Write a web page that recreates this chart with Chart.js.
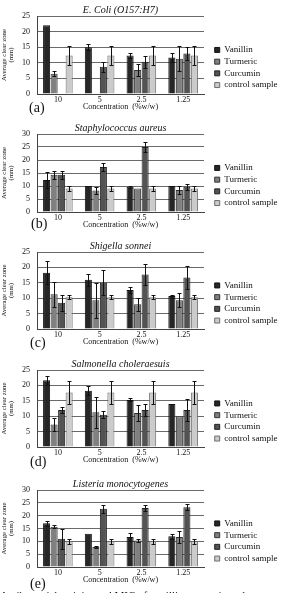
<!DOCTYPE html>
<html><head><meta charset="utf-8">
<script src="https://cdn.jsdelivr.net/npm/chart.js@4.4.1/dist/chart.umd.min.js"></script>
<style>
html,body{margin:0;padding:0;background:#fff}
body{width:281px;height:593px;overflow:hidden;position:relative;font-family:"Liberation Serif","Times New Roman",serif}
canvas{position:absolute;left:0}
.lbl{position:absolute;font-size:14px;color:#111;line-height:1}
.cap{position:absolute;left:0;top:590px;font-size:11px;white-space:nowrap;color:#111;line-height:1}
</style></head><body>
<canvas id="c0" width="281" height="113" style="top:-2px"></canvas>
<canvas id="c1" width="281" height="113" style="top:116px"></canvas>
<canvas id="c2" width="281" height="112" style="top:234px"></canvas>
<canvas id="c3" width="281" height="112" style="top:352px"></canvas>
<canvas id="c4" width="281" height="112" style="top:472px"></canvas>
<div class="lbl" style="left:29px;top:101px">(a)</div>
<div class="lbl" style="left:31px;top:217px">(b)</div>
<div class="lbl" style="left:30px;top:336px">(c)</div>
<div class="lbl" style="left:30px;top:455px">(d)</div>
<div class="lbl" style="left:30px;top:577px">(e)</div>
<div class="cap">Antibacterial activity and MIC of vanillin, turmeric and curcumin against</div>
<script>
const categories = ['10', '5', '2.5', '1.25'];
const seriesNames = ['Vanillin', 'Turmeric', 'Curcumin', 'control sample'];
const panelTitles = ['E. Coli (O157:H7)', 'Staphylococcus aureus', 'Shigella sonnei', 'Salmonella choleraesuis', 'Listeria monocytogenes'];
const panelMax = [25, 30, 25, 25, 30];
const xTitle = 'Concentration  (%w/w)';
const yTitle = ['Average clear zone', '(mm)'];

// (a) E. Coli
const ecoliVanillin = [22, 15, 12.3, 11.7];
const ecoliVanillinErr = [0, 1, 0.7, 1.5];
const ecoliTurmeric = [6.5, 0, 7.7, 11.3];
const ecoliTurmericErr = [0.8, 0, 2, 4];
const ecoliCurcumin = [0, 8.7, 10.3, 13];
const ecoliCurcuminErr = [0, 1.5, 2, 2];
const ecoliControl = [12.3, 12.3, 12.3, 12.3];
const ecoliControlErr = [3, 3, 3, 3];
// (b) Staphylococcus aureus
const staphVanillin = [12.3, 10, 9.7, 10];
const staphVanillinErr = [3, 0, 0.4, 0];
const staphTurmeric = [14.3, 8.3, 9, 8.5];
const staphTurmericErr = [1.5, 1.3, 0, 1.5];
const staphCurcumin = [14.3, 17.3, 25, 9.7];
const staphCurcuminErr = [1.5, 1.5, 2, 1.2];
const staphControl = [9, 9, 9, 9];
const staphControlErr = [1, 1, 1, 1];
// (c) Shigella sonnei
const shigVanillin = [18.3, 16, 12.7, 10.7];
const shigVanillinErr = [3.7, 2, 1, 0.5];
const shigTurmeric = [11.3, 9.3, 8, 9.3];
const shigTurmericErr = [4, 5.7, 2, 2.3];
const shigCurcumin = [8.5, 15, 17.7, 16.7];
const shigCurcuminErr = [2.7, 4, 3.5, 3.8];
const shigControl = [10.3, 10.3, 10.3, 10.3];
const shigControlErr = [0.7, 0.7, 0.7, 0.7];
// (d) Salmonella choleraesuis
const salmVanillin = [21.7, 18.3, 15.3, 14];
const salmVanillinErr = [1.5, 1.5, 0.5, 0];
const salmTurmeric = [7.3, 11.3, 11, 10];
const salmTurmericErr = [2, 5, 2.5, 0];
const salmCurcumin = [12, 10.5, 12, 12];
const salmCurcuminErr = [1, 1.2, 1.8, 3.5];
const salmControl = [17.7, 17.7, 17.7, 17.7];
const salmControlErr = [3.8, 3.8, 3.8, 3.8];
// (e) Listeria monocytogenes
const listVanillin = [17, 13, 11.7, 12];
const listVanillinErr = [1, 0, 1.5, 1];
const listTurmeric = [15.7, 7.8, 10.3, 11.7];
const listTurmericErr = [0.5, 0.5, 0.5, 2.3];
const listCurcumin = [11, 22.7, 23, 23.3];
const listCurcuminErr = [4, 1.5, 1, 1.2];
const listControl = [10, 10, 10, 10];
const listControlErr = [1, 1, 1, 1];

const panelData = [
  [[ecoliVanillin, ecoliVanillinErr], [ecoliTurmeric, ecoliTurmericErr], [ecoliCurcumin, ecoliCurcuminErr], [ecoliControl, ecoliControlErr]],
  [[staphVanillin, staphVanillinErr], [staphTurmeric, staphTurmericErr], [staphCurcumin, staphCurcuminErr], [staphControl, staphControlErr]],
  [[shigVanillin, shigVanillinErr], [shigTurmeric, shigTurmericErr], [shigCurcumin, shigCurcuminErr], [shigControl, shigControlErr]],
  [[salmVanillin, salmVanillinErr], [salmTurmeric, salmTurmericErr], [salmCurcumin, salmCurcuminErr], [salmControl, salmControlErr]],
  [[listVanillin, listVanillinErr], [listTurmeric, listTurmericErr], [listCurcumin, listCurcuminErr], [listControl, listControlErr]]
];

const fills = ['#262626', '#808080', '#535353', '#cbcbcb'];
const borders = ['#111111', '#333333', '#222222', '#6d6d6d'];
const FONT = "'Liberation Serif', 'Times New Roman', serif";

const errorBars = {
  id: 'errorBars',
  afterDatasetsDraw(chart) {
    const ctx = chart.ctx, ys = chart.scales.y;
    chart.data.datasets.forEach((ds, i) => {
      const meta = chart.getDatasetMeta(i);
      meta.data.forEach((bar, j) => {
        const e = ds.errors[j], v = ds.data[j];
        if (!e) return;
        const top = Math.round(ys.getPixelForValue(v + e)) + 0.5;
        const bot = Math.round(ys.getPixelForValue(Math.max(0, v - e))) + 0.5;
        const x = Math.round(bar.x) + 0.5;
        ctx.save();
        ctx.strokeStyle = '#111';
        ctx.lineWidth = 1;
        ctx.beginPath();
        ctx.moveTo(x, top); ctx.lineTo(x, bot);
        ctx.moveTo(x - 2, top); ctx.lineTo(x + 2, top);
        ctx.moveTo(x - 2, bot); ctx.lineTo(x + 2, bot);
        ctx.stroke();
        ctx.restore();
      });
    });
  }
};

panelData.forEach((series, p) => {
  new Chart(document.getElementById('c' + p), {
    type: 'bar',
    data: {
      labels: categories,
      datasets: series.map((s, k) => ({
        label: seriesNames[k],
        data: s[0],
        errors: s[1],
        backgroundColor: fills[k],
        borderColor: borders[k],
        borderWidth: 1,
        categoryPercentage: 0.72,
        barPercentage: 0.94
      }))
    },
    options: {
      responsive: false,
      animation: false,
      events: [],
      layout: { padding: { left: 0, right: 0, top: 0, bottom: 0 } },
      plugins: {
        tooltip: { enabled: false },
        title: {
          display: true, text: panelTitles[p], fullSize: false,
          color: '#111', font: { family: FONT, size: 10, style: 'italic', weight: 'normal', lineHeight: 1.2 },
          padding: { top: 6, bottom: 0 }
        },
        legend: {
          position: 'right',
          maxWidth: 69,
          title: { display: true, text: '', font: { size: 10, lineHeight: 1 }, padding: { top: 0, bottom: 16 } },
          labels: {
            boxWidth: 5, boxHeight: 5, padding: 2.7, color: '#111',
            font: { family: FONT, size: 9 }
          }
        }
      },
      scales: {
        x: {
          grid: { display: false, drawTicks: false, tickLength: 0 },
          border: { display: true, color: '#444', width: 1 },
          ticks: { color: '#111', padding: 2, font: { family: FONT, size: 8, lineHeight: 1 } },
          title: { display: true, text: xTitle, color: '#111', padding: 0, font: { family: FONT, size: 8, lineHeight: 1 } },
          afterFit(s) { s.height = 17; }
        },
        y: {
          min: 0, max: panelMax[p],
          ticks: { stepSize: 5, color: '#111', padding: 7, font: { family: FONT, size: 8 } },
          grid: { color: '#6a6a6a', lineWidth: 1, drawTicks: false, tickLength: 0 },
          border: { display: true, color: '#444', width: 1 },
          title: { display: true, text: yTitle, color: '#111', padding: 0, font: { family: FONT, size: 6.8, lineHeight: 1.1 } },
          afterFit(s) { s.width = 37; }
        },
        pad: {
          type: 'linear', position: 'right', display: true,
          grid: { display: false }, ticks: { display: false }, border: { display: false },
          afterFit(s) { s.width = 8; }
        }
      }
    },
    plugins: [errorBars]
  });
});
</script>
</body></html>
